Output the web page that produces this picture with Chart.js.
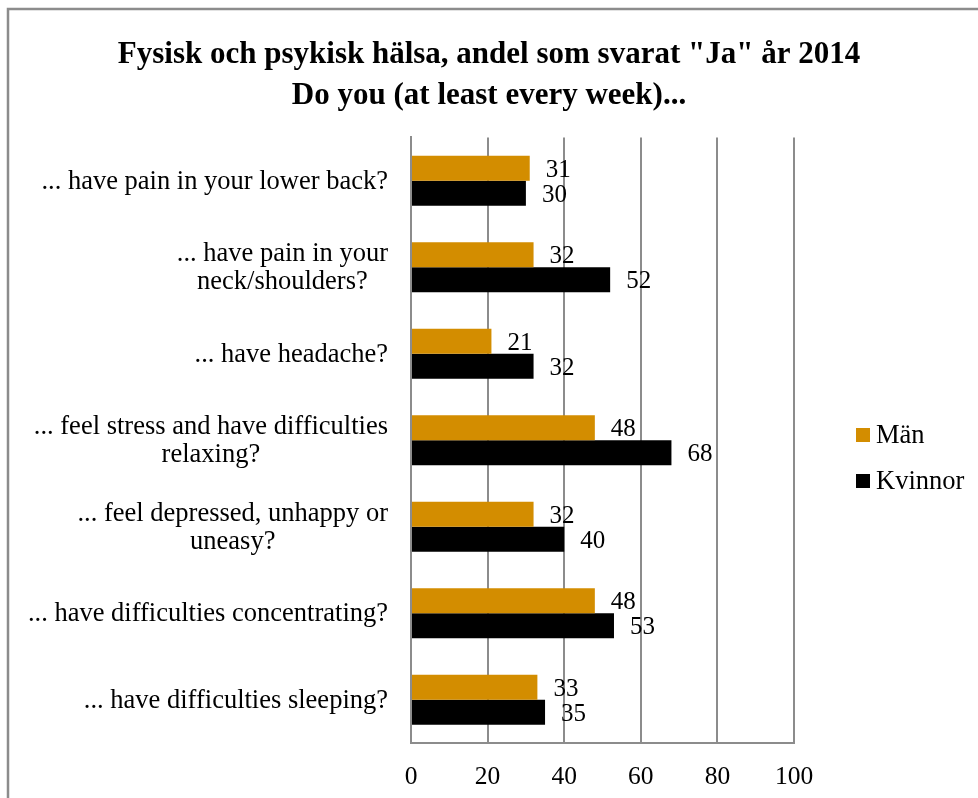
<!DOCTYPE html>
<html>
<head>
<meta charset="utf-8">
<script src="https://cdn.jsdelivr.net/npm/chart.js@4"></script>
<style>
  body { margin: 0; background: #fff; }
  #wrap { width: 978px; height: 798px; }
</style>
</head>
<body>
<div id="wrap"><canvas id="healthChart" width="978" height="798"></canvas></div>
<script>
var questions = [
  "... have pain in your lower back?",
  ["... have pain in your", "neck/shoulders?"],
  "... have headache?",
  ["... feel stress and have difficulties", "relaxing?"],
  ["... feel depressed, unhappy or", "uneasy?"],
  "... have difficulties concentrating?",
  "... have difficulties sleeping?"
];
var manValues = [31, 32, 21, 48, 32, 48, 33];
var kvinnorValues = [30, 52, 32, 68, 40, 53, 35];
var seriesNames = ["Män", "Kvinnor"];
var seriesColors = ["#D38D00", "#000000"];
var xTicks = [0, 20, 40, 60, 80, 100];

var serif = "'Liberation Serif', 'Times New Roman', serif";
var canvas = document.getElementById("healthChart");

// frame round the whole chart
var framePlugin = {
  id: 'frame',
  beforeDraw: function(chart) {
    var ctx = chart.ctx;
    ctx.save();
    ctx.fillStyle = '#fff';
    ctx.fillRect(0, 0, chart.width, chart.height);
    ctx.strokeStyle = '#8c8c8c';
    ctx.lineWidth = 2.5;
    ctx.strokeRect(8, 9, 1000, 820);
    ctx.restore();
  }
};

// y labels: block right aligned, lines centred in the block
var yLabelPlugin = {
  id: 'yLabels',
  afterDraw: function(chart) {
    var ctx = chart.ctx;
    var yScale = chart.scales.y;
    ctx.save();
    ctx.font = "26.5px " + serif;
    ctx.fillStyle = '#000';
    ctx.textAlign = 'center';
    ctx.textBaseline = 'middle';
    var right = chart.chartArea.left - 23;
    questions.forEach(function(q, i) {
      var lines = Array.isArray(q) ? q : [q];
      var widest = 0;
      lines.forEach(function(l) { widest = Math.max(widest, ctx.measureText(l).width); });
      var cx = right - widest / 2;
      var y0 = yScale.getPixelForTick(i) - (lines.length - 1) * 14 + 1;
      lines.forEach(function(l, j) { ctx.fillText(l, cx, y0 + j * 28); });
    });
    ctx.restore();
  }
};

// value labels next to bar ends
var valuePlugin = {
  id: 'values',
  afterDatasetsDraw: function(chart) {
    var ctx = chart.ctx;
    ctx.save();
    ctx.font = "25px " + serif;
    ctx.fillStyle = '#000';
    ctx.textAlign = 'left';
    ctx.textBaseline = 'middle';
    chart.data.datasets.forEach(function(ds, di) {
      var meta = chart.getDatasetMeta(di);
      meta.data.forEach(function(bar, i) {
        ctx.fillText(ds.data[i], bar.x + 16, bar.y + 2);
      });
    });
    ctx.restore();
  }
};

// legend on the right
var legendPlugin = {
  id: 'sideLegend',
  afterDraw: function(chart) {
    var ctx = chart.ctx;
    ctx.save();
    ctx.font = "26.5px " + serif;
    ctx.textBaseline = 'middle';
    ctx.textAlign = 'left';
    chart.data.datasets.forEach(function(ds, i) {
      var y = 435 + i * 46;
      ctx.fillStyle = ds.backgroundColor;
      ctx.fillRect(856, y - 7, 14, 14);
      ctx.fillStyle = '#000';
      ctx.fillText(ds.label, 876, y + 1);
    });
    ctx.restore();
  }
};

new Chart(canvas, {
  type: 'bar',
  data: {
    labels: questions,
    datasets: [
      { label: seriesNames[0], data: manValues, backgroundColor: seriesColors[0] },
      { label: seriesNames[1], data: kvinnorValues, backgroundColor: seriesColors[1] }
    ]
  },
  options: {
    indexAxis: 'y',
    responsive: false,
    animation: false,
    datasets: { bar: { categoryPercentage: 0.58, barPercentage: 1.0 } },
    plugins: {
      legend: { display: false },
      tooltip: { enabled: false },
      title: {
        display: true,
        text: ['Fysisk och psykisk hälsa, andel som svarat "Ja" år 2014', 'Do you (at least every week)...'],
        color: '#000',
        font: { family: serif, size: 31, weight: 'bold', lineHeight: 1.33 },
        padding: { top: 34, bottom: 21 }
      }
    },
    scales: {
      x: {
        min: 0,
        max: 100,
        afterBuildTicks: function(scale) {
          scale.ticks = xTicks.map(function(v) { return { value: v }; });
        },
        afterFit: function(scale) { scale.height = 55; },
        grid: { color: '#8c8c8c', lineWidth: 2, drawTicks: false },
        border: { color: '#8c8c8c', width: 2 },
        ticks: { color: '#000', padding: 19, font: { family: serif, size: 25.5 } }
      },
      y: {
        afterFit: function(scale) { scale.width = 411; },
        grid: { display: false, drawTicks: false },
        border: { color: '#8c8c8c', width: 2 },
        ticks: { color: 'rgba(0,0,0,0)', font: { family: serif, size: 26.5 } }
      },
      // empty axis that keeps room for the legend on the right
      side: {
        axis: 'y',
        position: 'right',
        afterFit: function(scale) { scale.width = 184; },
        grid: { display: false, drawTicks: false },
        border: { display: false },
        ticks: { display: false }
      }
    }
  },
  plugins: [framePlugin, yLabelPlugin, valuePlugin, legendPlugin]
});
</script>
</body>
</html>
